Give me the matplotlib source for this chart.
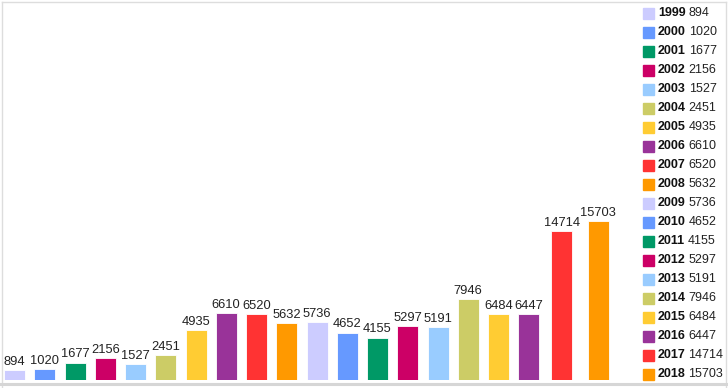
import numpy as np
import matplotlib
matplotlib.use('Agg')
import matplotlib.pyplot as plt
from matplotlib.lines import Line2D

plt.rcParams['font.family'] = ['Liberation Sans', 'DejaVu Sans']

# data
years = [1999, 2000, 2001, 2002, 2003, 2004, 2005, 2006, 2007, 2008,
         2009, 2010, 2011, 2012, 2013, 2014, 2015, 2016, 2017, 2018]
values = [894, 1020, 1677, 2156, 1527, 2451, 4935, 6610, 6520, 5632,
          5736, 4652, 4155, 5297, 5191, 7946, 6484, 6447, 14714, 15703]
palette = ['#ccccff', '#6699ff', '#009966', '#cc0066', '#99ccff',
           '#cccc66', '#ffcc33', '#993399', '#ff3333', '#ff9900']
colors = [palette[i % len(palette)] for i in range(len(years))]

W, H = 728, 388
fig = plt.figure(figsize=(W / 100, H / 100), dpi=100)

# bar centres: fixed pitch, widened where the value labels get long
pitch, digit_w, gap = 30.25, 7.0, 1.5
lw = [len(str(v)) * digit_w for v in values]
xs = [14.5]
for i in range(1, len(values)):
    step = max(pitch, (lw[i - 1] + lw[i]) / 2 + gap)
    xs.append(xs[-1] + step)

ax = fig.add_axes([0, 8.5 / H, 630 / W, 158.5 / H])
ax.set_xlim(0, 630)
ax.set_ylim(0, max(values))
ax.axis('off')
ax.bar(xs, values, width=21, color=colors, edgecolor='white',
       linewidth=0.6)
for x, v in zip(xs, values):
    ax.annotate(str(v), xy=(x, v), xytext=(0, 1.5),
                textcoords='offset points', ha='center', va='bottom',
                fontsize=9.3, color='#222222', annotation_clip=False)

# legend drawn by hand, in pixel coordinates
lax = fig.add_axes([0, 0, 1, 1])
lax.set_xlim(0, W)
lax.set_ylim(H, 0)
lax.axis('off')
for i, (yr, v, c) in enumerate(zip(years, values, colors)):
    y = 13 + i * 19
    lax.add_patch(plt.Rectangle((643, y - 5.5), 11, 11, color=c))
    t = lax.text(658, y, str(yr), fontsize=9, fontweight='bold',
                 color='#111111', va='center')
    lax.annotate(str(v), xy=(1, 0.5), xycoords=t, xytext=(2, 0),
                 textcoords='offset points', va='center', fontsize=9,
                 color='#222222')

# frame round the whole picture
frame = dict(transform=fig.transFigure, color='#dddddd', linewidth=1)
fig.add_artist(Line2D([1.5 / W, 1.5 / W], [0, 1 - 1.5 / H], **frame))
fig.add_artist(Line2D([1.5 / W, 726 / W], [1 - 1.5 / H, 1 - 1.5 / H], **frame))
fig.add_artist(Line2D([726 / W, 726 / W], [0, 1 - 1.5 / H], **frame))
fig.add_artist(Line2D([0, 726 / W], [4.5 / H, 4.5 / H],
                      transform=fig.transFigure, color='#d6d6d6',
                      linewidth=2.2))

fig.savefig('out.png', dpi=100)
